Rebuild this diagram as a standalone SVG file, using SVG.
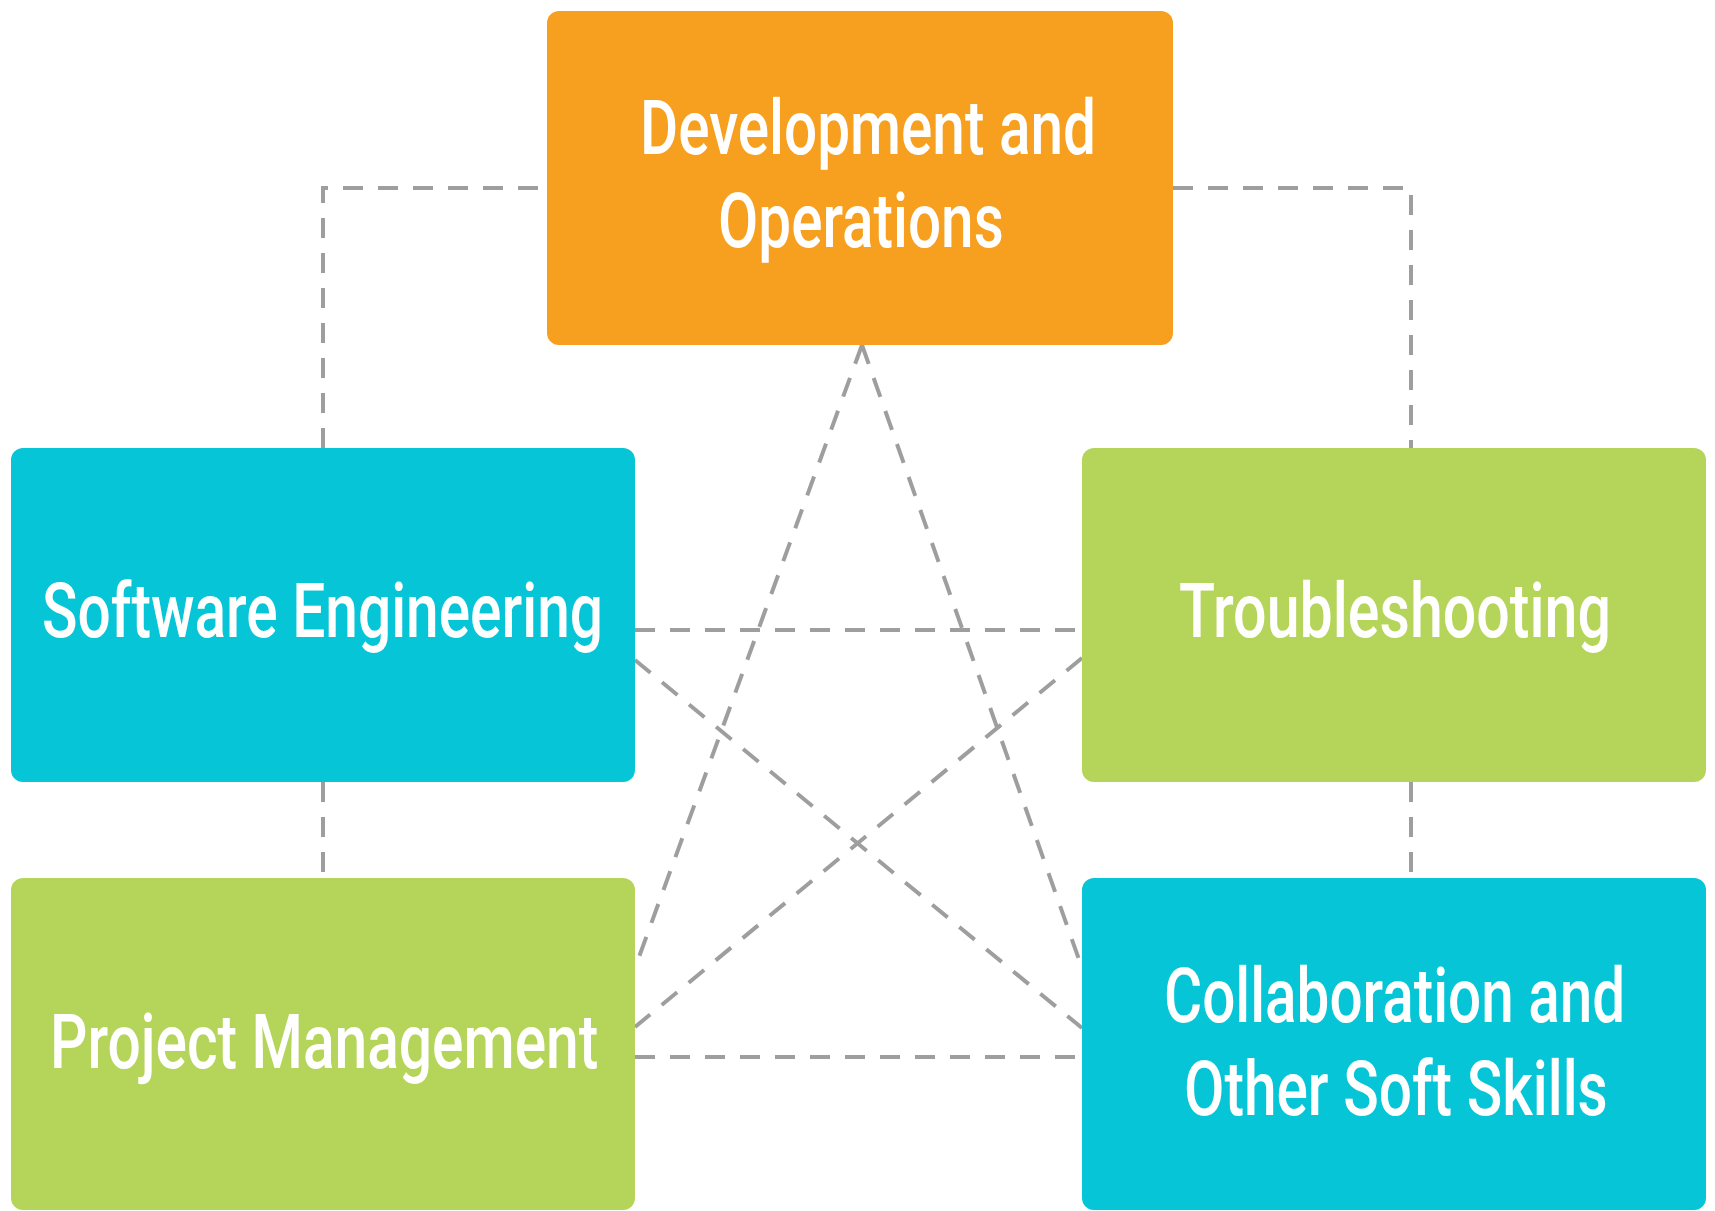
<svg xmlns="http://www.w3.org/2000/svg" width="1715" height="1211" viewBox="0 0 1715 1211">
<style>
.conn{fill:none;stroke:#9e9e9e;stroke-width:4;stroke-dasharray:20 15}
.lbl{font-family:Roboto,"Liberation Sans",sans-serif;font-weight:500;font-size:76px;fill:#ffffff}
.orange{fill:#f79f1f}
.cyan{fill:#05c5d6}
.green{fill:#b5d55a}
</style>
<rect width="1715" height="1211" fill="#ffffff"/>
<g id="connectors">
<polyline class="conn" points="323,448 323,188 547,188"/>
<polyline class="conn" points="1173,188 1411,188 1411,448"/>
<line class="conn" x1="323" y1="782" x2="323" y2="878"/>
<line class="conn" x1="1411" y1="782" x2="1411" y2="878"/>
<line class="conn" x1="635" y1="630" x2="1082" y2="630"/>
<line class="conn" x1="635" y1="1057" x2="1082" y2="1057"/>
<line class="conn" x1="862" y1="345" x2="635" y2="968"/>
<line class="conn" x1="862" y1="345" x2="1082" y2="968"/>
<line class="conn" x1="635" y1="660" x2="1082" y2="1028"/>
<line class="conn" x1="1082" y1="658" x2="635" y2="1027"/>
</g>
<g id="node-devops">
<rect class="orange" x="547" y="11" width="626" height="334" rx="12"/>
<text class="lbl" transform="translate(640 154) scale(0.75 1)" textLength="608" lengthAdjust="spacingAndGlyphs">Development and</text>
<text class="lbl" transform="translate(718 247) scale(0.75 1)" textLength="381" lengthAdjust="spacingAndGlyphs">Operations</text>
</g>
<g id="node-software-engineering">
<rect class="cyan" x="11" y="448" width="624" height="334" rx="12"/>
<text class="lbl" transform="translate(42 637) scale(0.75 1)" textLength="748" lengthAdjust="spacingAndGlyphs">Software Engineering</text>
</g>
<g id="node-troubleshooting">
<rect class="green" x="1082" y="448" width="624" height="334" rx="12"/>
<text class="lbl" transform="translate(1179 637) scale(0.75 1)" textLength="576" lengthAdjust="spacingAndGlyphs">Troubleshooting</text>
</g>
<g id="node-project-management">
<rect class="green" x="11" y="878" width="624" height="332" rx="12"/>
<text class="lbl" transform="translate(50 1068) scale(0.75 1)" textLength="731" lengthAdjust="spacingAndGlyphs">Project Management</text>
</g>
<g id="node-collaboration">
<rect class="cyan" x="1082" y="878" width="624" height="332" rx="12"/>
<text class="lbl" transform="translate(1164 1022) scale(0.75 1)" textLength="615" lengthAdjust="spacingAndGlyphs">Collaboration and</text>
<text class="lbl" transform="translate(1184 1115) scale(0.75 1)" textLength="565" lengthAdjust="spacingAndGlyphs">Other Soft Skills</text>
</g>
</svg>
